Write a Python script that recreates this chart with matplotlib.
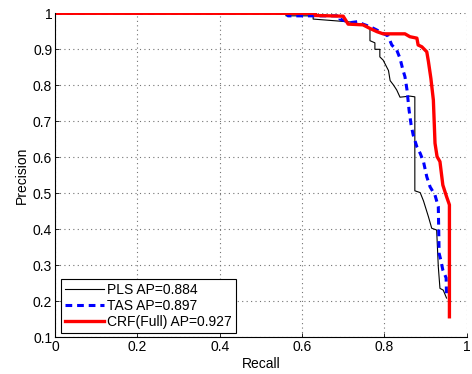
import matplotlib
matplotlib.use("Agg")
import matplotlib.pyplot as plt

plt.rcParams['font.family'] = ['Liberation Sans', 'DejaVu Sans']

# PLS (black)
pls_recall = [0.0, 0.561, 0.561, 0.627, 0.627, 0.717, 0.736, 0.753, 0.765, 0.765, 0.777, 0.777,
              0.789, 0.789, 0.797, 0.810, 0.814, 0.822, 0.830, 0.838, 0.862, 0.874, 0.874,
              0.887, 0.895, 0.907, 0.915, 0.927, 0.931, 0.935, 0.943, 0.951]
pls_precision = [1.0, 1.0, 0.993, 0.993, 0.984, 0.976, 0.970, 0.965, 0.958, 0.924, 0.918, 0.900,
                 0.900, 0.879, 0.870, 0.841, 0.813, 0.801, 0.787, 0.767, 0.770, 0.768, 0.507,
                 0.502, 0.479, 0.435, 0.403, 0.398, 0.296, 0.236, 0.231, 0.209]

# TAS (blue dashed)
tas_recall = [0.0, 0.566, 0.566, 0.692, 0.692, 0.717, 0.736, 0.748, 0.765, 0.781, 0.809, 0.818,
              0.830, 0.838, 0.845, 0.850, 0.855, 0.860, 0.865, 0.870, 0.879, 0.887, 0.895,
              0.903, 0.911, 0.923, 0.931, 0.933, 0.937, 0.942, 0.950, 0.951]
tas_precision = [1.0, 1.0, 0.993, 0.993, 0.984, 0.974, 0.977, 0.970, 0.963, 0.954, 0.937, 0.912,
                 0.898, 0.875, 0.843, 0.824, 0.787, 0.731, 0.690, 0.662, 0.629, 0.611, 0.588,
                 0.546, 0.518, 0.495, 0.463, 0.333, 0.315, 0.287, 0.265, 0.213]

# CRF(Full) (red)
crf_recall = [0.0, 0.632, 0.632, 0.700, 0.712, 0.748, 0.765, 0.782, 0.797, 0.850, 0.862, 0.879,
              0.882, 0.891, 0.903, 0.907, 0.913, 0.919, 0.923, 0.928, 0.935, 0.942, 0.951,
              0.958, 0.958]
crf_precision = [1.0, 1.0, 0.994, 0.992, 0.970, 0.968, 0.958, 0.949, 0.943, 0.943, 0.935, 0.931,
                 0.912, 0.907, 0.893, 0.866, 0.819, 0.759, 0.639, 0.602, 0.588, 0.523, 0.491,
                 0.468, 0.157]

labels = ['PLS AP=0.884', 'TAS AP=0.897', 'CRF(Full) AP=0.927']
xticks = [0, 0.2, 0.4, 0.6, 0.8, 1]
xticklabels = ['0', '0.2', '0.4', '0.6', '0.8', '1']
yticks = [0.1, 0.2, 0.3, 0.4, 0.5, 0.6, 0.7, 0.8, 0.9, 1]
yticklabels = ['0.1', '0.2', '0.3', '0.4', '0.5', '0.6', '0.7', '0.8', '0.9', '1']

fig = plt.figure(figsize=(4.72, 3.74), dpi=100)
ax = fig.add_axes([0.1165, 0.0981, 0.8723, 0.8663])

ax.plot(pls_recall, pls_precision, color='black', lw=0.8, label=labels[0])
ax.plot(tas_recall, tas_precision, color='blue', lw=2.2, ls=(0, (2.2, 1.6)), label=labels[1])
ax.plot(crf_recall, crf_precision, color='red', lw=2.4, label=labels[2])

ax.set_xlim(0, 1)
ax.set_ylim(0.1, 1)
ax.set_xticks(xticks)
ax.set_xticklabels(xticklabels)
ax.set_yticks(yticks)
ax.set_yticklabels(yticklabels)
ax.tick_params(direction='in', labelsize=10, length=3, width=0.6, pad=2)
ax.grid(True, ls=(0, (1, 3)), color='0.45', lw=0.8)
for s in ['top', 'right']:
    ax.spines[s].set_visible(False)
for s in ['left', 'bottom']:
    ax.spines[s].set_linewidth(0.8)

ax.set_xlabel('Recall', fontsize=10, labelpad=2)
ax.set_ylabel('Precision', fontsize=10, labelpad=3)

leg = ax.legend(loc='lower left', bbox_to_anchor=(0.005, 0.0), fontsize=10,
                fancybox=False, edgecolor='black', framealpha=1,
                handlelength=2.8, handletextpad=0.2, borderpad=0.3,
                labelspacing=0.15, borderaxespad=0.3)
leg.get_frame().set_linewidth(0.8)

fig.savefig('out.png', dpi=100)
